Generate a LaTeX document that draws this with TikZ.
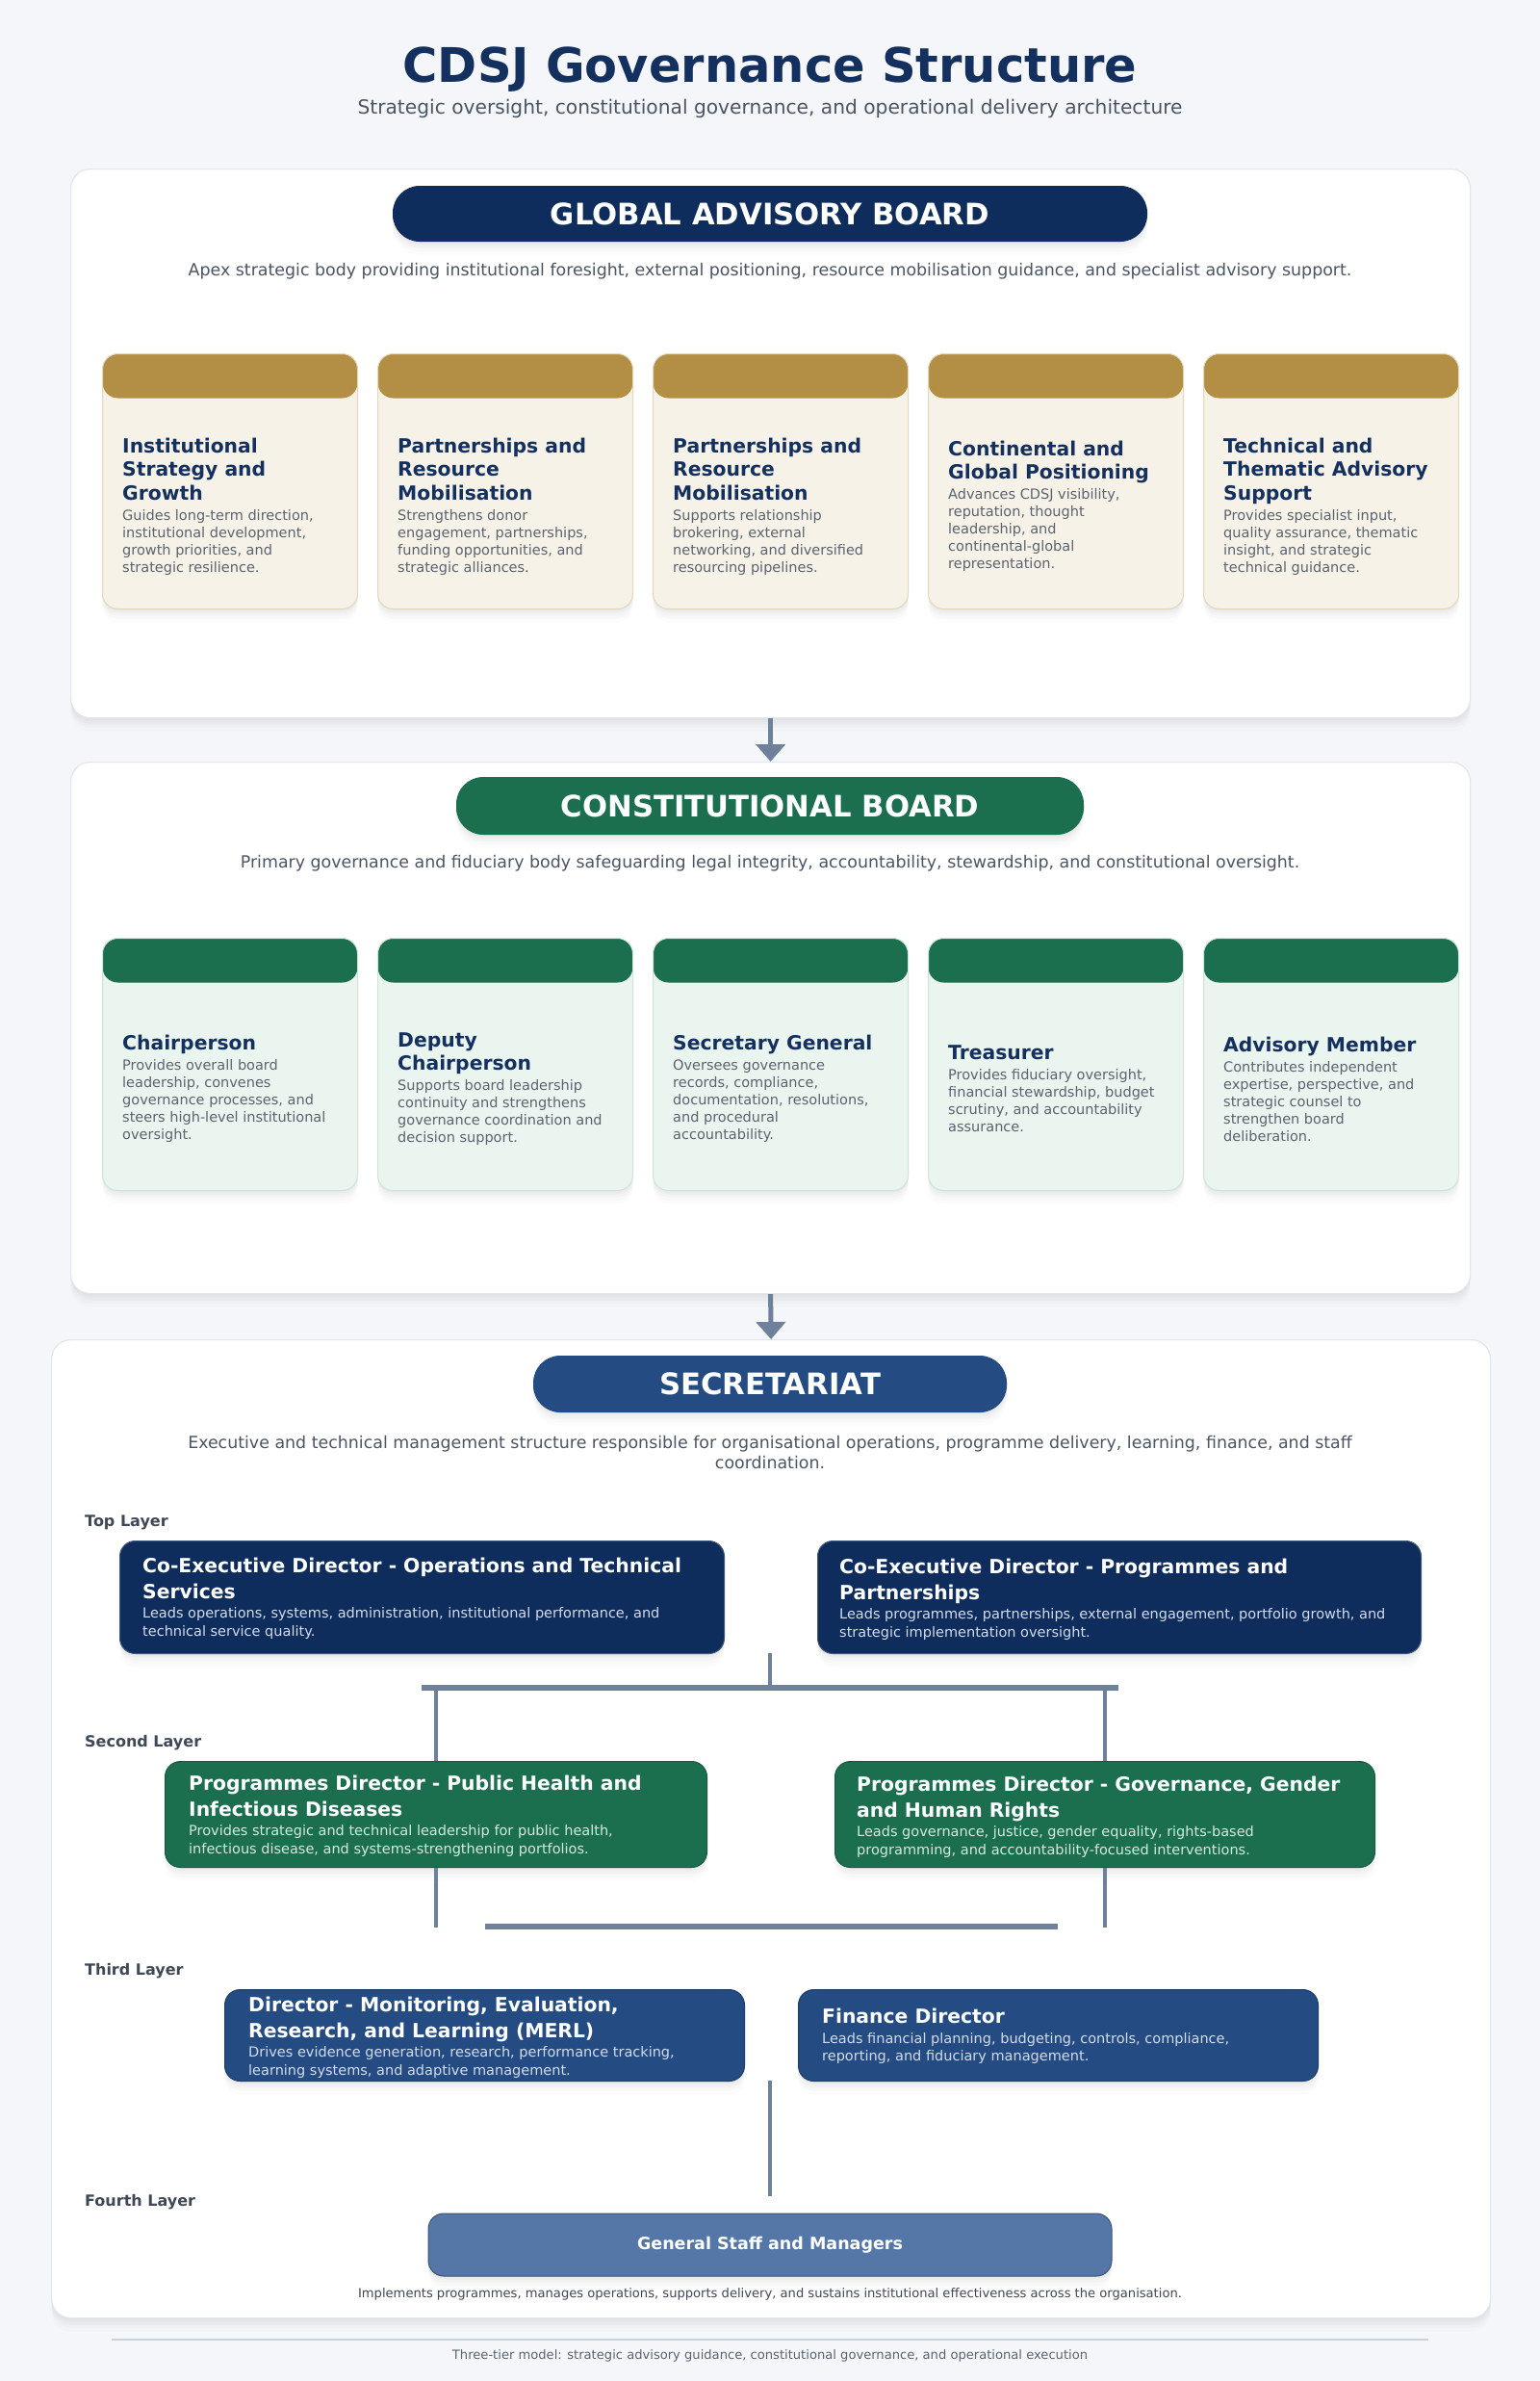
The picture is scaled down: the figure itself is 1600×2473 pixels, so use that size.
\documentclass[tikz,border=0pt]{standalone}
\usepackage{fontspec}
\setmainfont{DejaVu Sans}
\usetikzlibrary{shadows,arrows.meta,calc}

\definecolor{bg}{HTML}{F4F6F9}
\definecolor{navy}{HTML}{0F2D5C}
\definecolor{titlenavy}{HTML}{14305E}
\definecolor{cgreen}{HTML}{1B6F4F}
\definecolor{midblue}{HTML}{244B82}
\definecolor{lightblue}{HTML}{5577A8}
\definecolor{gold}{HTML}{B38F45}
\definecolor{cream}{HTML}{F6F2E7}
\definecolor{creamborder}{HTML}{E3D8BC}
\definecolor{mint}{HTML}{EAF5EF}
\definecolor{mintborder}{HTML}{CFE5D8}
\definecolor{conn}{HTML}{6F809B}
\definecolor{txtgray}{HTML}{4B5563}
\definecolor{cardgray}{HTML}{5B6370}
\definecolor{lblgray}{HTML}{3F4856}
\definecolor{panelborder}{HTML}{E1E5EC}
\definecolor{descnavy}{HTML}{D3DCEA}
\definecolor{descgreen}{HTML}{D5EBDF}

\newcommand{\cardcontent}[2]{\begin{minipage}{232pt}\raggedright\color{titlenavy}\fontsize{20.3}{24.5}\selectfont\bfseries #1\par\vspace{3pt}\color{cardgray}\fontsize{14.5}{18}\selectfont\mdseries #2\par\end{minipage}}
\newcommand{\boxcontent}[4]{\begin{minipage}{#1}\raggedright\color{white}\fontsize{20.3}{27}\selectfont\bfseries #2\par\vspace{2pt}\color{#4}\fontsize{14.5}{18.5}\selectfont\mdseries #3\par\end{minipage}}

\tikzset{
  softshadow/.style={
    drop shadow={opacity=0.04, shadow xshift=0pt, shadow yshift=-2pt},
    drop shadow={opacity=0.04, shadow xshift=0pt, shadow yshift=-4pt},
    drop shadow={opacity=0.035, shadow xshift=0pt, shadow yshift=-7pt},
    drop shadow={opacity=0.03, shadow xshift=0pt, shadow yshift=-10pt},
    drop shadow={opacity=0.02, shadow xshift=0pt, shadow yshift=-14pt}},
  panel/.style={rectangle, rounded corners=20pt, fill=white, draw=panelborder, line width=1.2pt, softshadow},
  pill/.style={rectangle, rounded corners=28pt, text=white, font=\fontsize{30.7}{36}\selectfont\bfseries, softshadow},
  gcard/.style={rectangle, rounded corners=16pt, minimum width=265pt, minimum height=265pt, fill=cream,
    draw=creamborder, line width=1pt, softshadow,
    path picture={\fill[gold] (path picture bounding box.north west) rectangle ([yshift=-46pt]path picture bounding box.north east);}},
  ccard/.style={rectangle, rounded corners=16pt, minimum width=265pt, minimum height=262pt, fill=mint,
    draw=mintborder, line width=1pt, softshadow,
    path picture={\fill[cgreen] (path picture bounding box.north west) rectangle ([yshift=-46pt]path picture bounding box.north east);}},
  sbox/.style={rectangle, rounded corners=16pt, line width=1pt, softshadow},
  paneldesc/.style={text=txtgray, font=\fontsize{17.4}{21.5}\selectfont, align=center},
  layerlbl/.style={text=lblgray, font=\fontsize{16}{19}\selectfont\bfseries, anchor=west, inner sep=0pt},
  arrowc/.style={draw=conn, line width=5pt, -{Triangle[width=30pt,length=18pt]}},
  vconn/.style={draw=conn, line width=4pt},
  hbar/.style={draw=conn, line width=5.5pt},
}

\newcommand{\goldcard}[4]{%
  \node[gcard, anchor=north west] (#1) at ({106+286*#2},367) {};
  \node[inner sep=0pt, anchor=west] (#1t) at ({127+286*#2},526) {\cardcontent{#3}{#4}};}
\newcommand{\greencard}[4]{%
  \node[ccard, anchor=north west] (#1) at ({106+286*#2},974) {};
  \node[inner sep=0pt, anchor=west] (#1t) at ({127+286*#2},1131) {\cardcontent{#3}{#4}};}

\begin{document}
\begin{tikzpicture}[x=1pt,y=-1pt]
\useasboundingbox (0,0) rectangle (1600,2473);
\fill[bg] (0,0) rectangle (1600,2473);

% Title
\node[text=titlenavy, font=\fontsize{49.5}{58}\selectfont\bfseries] (title) at (800,72) {CDSJ Governance Structure};
\node[text=txtgray, font=\fontsize{20.2}{24}\selectfont] (subtitle) at (800,113) {Strategic oversight, constitutional governance, and operational delivery architecture};

% Panels
\node[panel, minimum width=1454pt, minimum height=570pt, anchor=north west] (gab) at (73,175) {};
\node[panel, minimum width=1454pt, minimum height=552pt, anchor=north west] (cb) at (73,791) {};
\node[panel, minimum width=1495pt, minimum height=1016pt, anchor=north west] (sec) at (53,1391) {};

\draw[arrowc] (gab.south) -- (cb.north);
\draw[arrowc] (cb.south) -- (sec.north);

% Global Advisory Board
\node[pill, fill=navy, minimum width=784pt, minimum height=58pt] (gabpill) at (800,222) {GLOBAL ADVISORY BOARD};
\node[paneldesc] (gabdesc) at (800,282) {Apex strategic body providing institutional foresight, external positioning, resource mobilisation guidance, and specialist advisory support.};

\goldcard{g1}{0}{Institutional\\Strategy and\\Growth}{Guides long-term direction,\\institutional development,\\growth priorities, and\\strategic resilience.}
\goldcard{g2}{1}{Partnerships and\\Resource\\Mobilisation}{Strengthens donor\\engagement, partnerships,\\funding opportunities, and\\strategic alliances.}
\goldcard{g3}{2}{Partnerships and\\Resource\\Mobilisation}{Supports relationship\\brokering, external\\networking, and diversified\\resourcing pipelines.}
\goldcard{g4}{3}{Continental and\\Global Positioning}{Advances CDSJ visibility,\\reputation, thought\\leadership, and\\continental-global\\representation.}
\goldcard{g5}{4}{Technical and\\Thematic Advisory\\Support}{Provides specialist input,\\quality assurance, thematic\\insight, and strategic\\technical guidance.}

% Constitutional Board
\node[pill, fill=cgreen, minimum width=652pt, minimum height=60pt] (cbpill) at (800,837) {CONSTITUTIONAL BOARD};
\node[paneldesc] (cbdesc) at (800,897) {Primary governance and fiduciary body safeguarding legal integrity, accountability, stewardship, and constitutional oversight.};

\greencard{c1}{0}{Chairperson}{Provides overall board\\leadership, convenes\\governance processes, and\\steers high-level institutional\\oversight.}
\greencard{c2}{1}{Deputy\\Chairperson}{Supports board leadership\\continuity and strengthens\\governance coordination and\\decision support.}
\greencard{c3}{2}{Secretary General}{Oversees governance\\records, compliance,\\documentation, resolutions,\\and procedural\\accountability.}
\greencard{c4}{3}{Treasurer}{Provides fiduciary oversight,\\financial stewardship, budget\\scrutiny, and accountability\\assurance.}
\greencard{c5}{4}{Advisory Member}{Contributes independent\\expertise, perspective, and\\strategic counsel to\\strengthen board\\deliberation.}

% Secretariat
\node[pill, fill=midblue, minimum width=492pt, minimum height=59pt] (secpill) at (800,1437.5) {SECRETARIAT};
\node[paneldesc] (secdesc) at (800,1508.5) {Executive and technical management structure responsible for organisational operations, programme delivery, learning, finance, and staff\\coordination.};

\node[layerlbl] (l1) at (88,1581) {Top Layer};
\node[layerlbl] (l2) at (88,1810) {Second Layer};
\node[layerlbl] (l3) at (88,2047) {Third Layer};
\node[layerlbl] (l4) at (88,2287) {Fourth Layer};

% Top layer
\node[sbox, fill=navy, draw=navy!80!white, minimum width=628pt, minimum height=117pt, anchor=north west] (t1) at (124,1600) {};
\node[sbox, fill=navy, draw=navy!80!white, minimum width=627pt, minimum height=117pt, anchor=north west] (t2) at (849,1600) {};
\node[inner sep=0pt, anchor=west] (t1t) at (148,1660) {\boxcontent{595pt}{Co-Executive Director - Operations and Technical\\Services}{Leads operations, systems, administration, institutional performance, and\\technical service quality.}{descnavy}};
\node[inner sep=0pt, anchor=west] (t2t) at (872,1661) {\boxcontent{595pt}{Co-Executive Director - Programmes and\\Partnerships}{Leads programmes, partnerships, external engagement, portfolio growth, and\\strategic implementation oversight.}{descnavy}};

% Second layer
\node[sbox, fill=cgreen, draw=cgreen!80!black, minimum width=563pt, minimum height=110pt, anchor=north west] (s1) at (171,1829) {};
\node[sbox, fill=cgreen, draw=cgreen!80!black, minimum width=561pt, minimum height=110pt, anchor=north west] (s2) at (867,1829) {};
\node[inner sep=0pt, anchor=west] (s1t) at (196,1886) {\boxcontent{530pt}{Programmes Director - Public Health and\\Infectious Diseases}{Provides strategic and technical leadership for public health,\\infectious disease, and systems-strengthening portfolios.}{descgreen}};
\node[inner sep=0pt, anchor=west] (s2t) at (890,1887) {\boxcontent{530pt}{Programmes Director - Governance, Gender\\and Human Rights}{Leads governance, justice, gender equality, rights-based\\programming, and accountability-focused interventions.}{descgreen}};

% Third layer
\node[sbox, fill=midblue, draw=midblue!80!black, minimum width=540pt, minimum height=95pt, anchor=north west] (d1) at (233,2066) {};
\node[sbox, fill=midblue, draw=midblue!80!black, minimum width=540pt, minimum height=95pt, anchor=north west] (d2) at (829,2066) {};
\node[inner sep=0pt, anchor=west] (d1t) at (258,2116) {\boxcontent{510pt}{Director - Monitoring, Evaluation,\\Research, and Learning (MERL)}{Drives evidence generation, research, performance tracking,\\learning systems, and adaptive management.}{descnavy}};
\node[inner sep=0pt, anchor=west] (d2t) at (854,2115) {\boxcontent{510pt}{Finance Director}{Leads financial planning, budgeting, controls, compliance,\\reporting, and fiduciary management.}{descnavy}};

% Fourth layer
\node[sbox, fill=lightblue, draw=lightblue!70!black, minimum width=710pt, minimum height=65pt, text=white,
  font=\fontsize{17.5}{21}\selectfont\bfseries] (fs) at (800,2331.5) {General Staff and Managers};
\node[text=lblgray, font=\fontsize{13.1}{16}\selectfont] (fsdesc) at (800,2383) {Implements programmes, manages operations, supports delivery, and sustains institutional effectiveness across the organisation.};

% Connectors
\coordinate (top0) at (800,1717);
\coordinate (top1) at (800,1753);
\coordinate (bar1l) at (438,1753);
\coordinate (bar1r) at (1162,1753);
\draw[vconn] (top0) -- (top1);
\draw[hbar] (bar1l) -- (bar1r);
\coordinate (j1) at (s1.north |- top1);
\coordinate (j2) at (s2.north |- top1);
\draw[vconn] (j1) -- (s1.north);
\draw[vconn] (j2) -- (s2.north);
\coordinate (k1) at ([yshift=-62pt]s1.south);
\coordinate (k2) at ([yshift=-62pt]s2.south);
\draw[vconn] (s1.south) -- (k1);
\draw[vconn] (s2.south) -- (k2);
\coordinate (bar2l) at (504,2001);
\coordinate (bar2r) at (1099,2001);
\draw[hbar] (bar2l) -- (bar2r);
\coordinate (m0) at (800,2161);
\draw[vconn, shorten >=18pt] (m0) -- (fs.north);

% Footer
\draw[draw=panelborder!80!conn, line width=1.5pt] (116,2430) -- (1484,2430);
\node[text=cardgray, font=\fontsize{13.1}{16}\selectfont] (footer) at (800,2447) {Three-tier model: strategic advisory guidance, constitutional governance, and operational execution};
\end{tikzpicture}
\end{document}
